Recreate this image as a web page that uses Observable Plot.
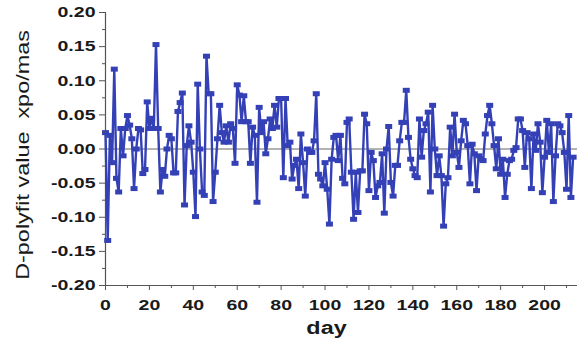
<!DOCTYPE html>
<html><head><meta charset="utf-8">
<script src="https://cdn.jsdelivr.net/npm/d3@7"></script>
<script src="https://cdn.jsdelivr.net/npm/@observablehq/plot@0.6"></script>
<style>body{margin:0;background:#fff}</style>
</head><body><div id="chart"></div>
<script>
const values = [
 0.024,-0.134,0.020,-0.020,0.117,-0.043,-0.063,0.030,-0.010,0.030,
 0.049,0.035,0.015,-0.058,0.000,0.030,0.028,-0.036,-0.030,0.069,
 0.030,0.045,0.030,0.153,0.030,-0.063,-0.030,-0.040,0.000,0.020,
 0.015,-0.035,-0.035,0.055,0.068,0.082,-0.082,0.005,0.034,0.010,
 -0.034,-0.099,0.095,0.000,-0.063,-0.068,0.136,0.081,0.081,-0.077,
 -0.034,0.015,0.064,0.024,0.010,0.034,0.010,0.037,0.030,-0.021,
 0.094,0.079,0.040,0.078,0.040,0.040,-0.021,0.032,0.020,-0.078,
 0.061,0.024,0.040,-0.007,0.015,0.044,0.030,0.064,0.032,0.074,
 0.074,-0.042,0.074,0.005,0.010,-0.044,-0.024,-0.015,-0.058,0.022,
 -0.020,-0.069,0.000,-0.005,-0.005,0.012,0.081,-0.037,-0.044,-0.054,
 -0.020,-0.059,-0.110,-0.015,0.017,0.020,-0.017,0.020,-0.043,-0.051,
 0.039,0.044,-0.034,-0.103,-0.034,-0.093,-0.032,-0.032,0.051,0.037,
 -0.061,-0.005,-0.017,-0.071,-0.054,-0.049,-0.007,-0.094,0.000,0.033,
 -0.049,-0.069,-0.024,-0.024,0.012,0.039,0.039,0.086,0.017,-0.015,
 -0.029,-0.039,-0.042,0.044,-0.012,0.027,0.037,0.054,-0.063,0.064,
 0.000,-0.039,-0.010,-0.039,-0.113,-0.051,-0.042,0.032,-0.010,0.051,
 -0.005,-0.027,0.012,0.042,0.037,0.005,-0.051,0.007,-0.007,-0.061,
 -0.010,-0.015,-0.017,0.022,0.049,0.064,0.037,0.005,-0.029,0.015,
 -0.037,-0.015,-0.071,-0.037,-0.017,-0.015,-0.002,0.002,0.044,0.044,
 0.027,-0.027,0.024,0.015,-0.058,0.022,-0.002,0.037,0.010,-0.064,
 -0.012,0.042,-0.005,0.037,-0.077,-0.010,0.037,0.034,0.024,-0.005,
 -0.059,0.049,-0.071,-0.012
];
const days = values.map((v, i) => i);
const xTicks = [0,20,40,60,80,100,120,140,160,180,200];
const xMinorTicks = [10,30,50,70,90,110,130,150,170,190,210];
const yTicks = [-0.20,-0.15,-0.10,-0.05,0.00,0.05,0.10,0.15,0.20];
const yMinorTicks = [-0.175,-0.125,-0.075,-0.025,0.025,0.075,0.125,0.175];
const xLabel = "day";
const yLabel = "D-polyfit value \u00a0xpo/mas";

const data = days.map((d, i) => ({day: d, value: values[i]}));
const blue = "#3440b6";
const axisColor = "#555";
// flat rectangular marker like the original's
const flatSquare = {draw(ctx) { ctx.rect(-3.5, -2.5, 7, 5); }};

const chart = Plot.plot({
  width: 583, height: 347,
  marginLeft: 105, marginRight: 6, marginTop: 12, marginBottom: 62,
  style: {fontFamily: "'Liberation Sans', Arial, sans-serif", fontSize: "15px", fontWeight: "600", color: "#1a1a1a", background: "#fff"},
  x: {domain: [0, 215]},
  y: {domain: [-0.2, 0.2]},
  marks: [
    Plot.ruleY([0], {stroke: "#666", strokeWidth: 1}),
    Plot.ruleX([0], {stroke: axisColor, strokeWidth: 1.2}),
    Plot.ruleY([-0.2], {stroke: axisColor, strokeWidth: 1.2}),
    Plot.line(data, {x: "day", y: "value", stroke: blue, strokeWidth: 2.4}),
    Plot.dot(data, {x: "day", y: "value", symbol: flatSquare, fill: blue, stroke: "none"}),
    Plot.axisY({ticks: yTicks, tickSize: 6, tickPadding: 4, tickFormat: d => d.toFixed(2), stroke: axisColor, label: null}),
    Plot.axisY({ticks: yMinorTicks, tickSize: 3, tickFormat: () => "", stroke: axisColor, label: null}),
    Plot.axisX({ticks: xTicks, tickSize: 5, tickPadding: 9, tickFormat: d => String(d), stroke: axisColor, label: null}),
    Plot.axisX({ticks: xMinorTicks, tickSize: 3, tickFormat: () => "", stroke: axisColor, label: null}),
    Plot.text([yLabel], {frameAnchor: "left", dx: -82, dy: 6, rotate: -90, textAnchor: "middle", fontSize: 18, fontWeight: 400, fill: "#1a1a1a"}),
    Plot.text([xLabel], {frameAnchor: "bottom", dx: -15, dy: 43, lineAnchor: "middle", fontSize: 18, fontWeight: 600, fill: "#1a1a1a"})
  ]
});
document.getElementById("chart").appendChild(chart);
// the reference typography is horizontally stretched
chart.querySelectorAll("text").forEach(t => {
  if (!t.textContent) return;
  const len = t.getComputedTextLength();
  if (len > 0) {
    t.setAttribute("textLength", (len * 1.3).toFixed(1));
    t.setAttribute("lengthAdjust", "spacingAndGlyphs");
  }
});
</script>
</body></html>
